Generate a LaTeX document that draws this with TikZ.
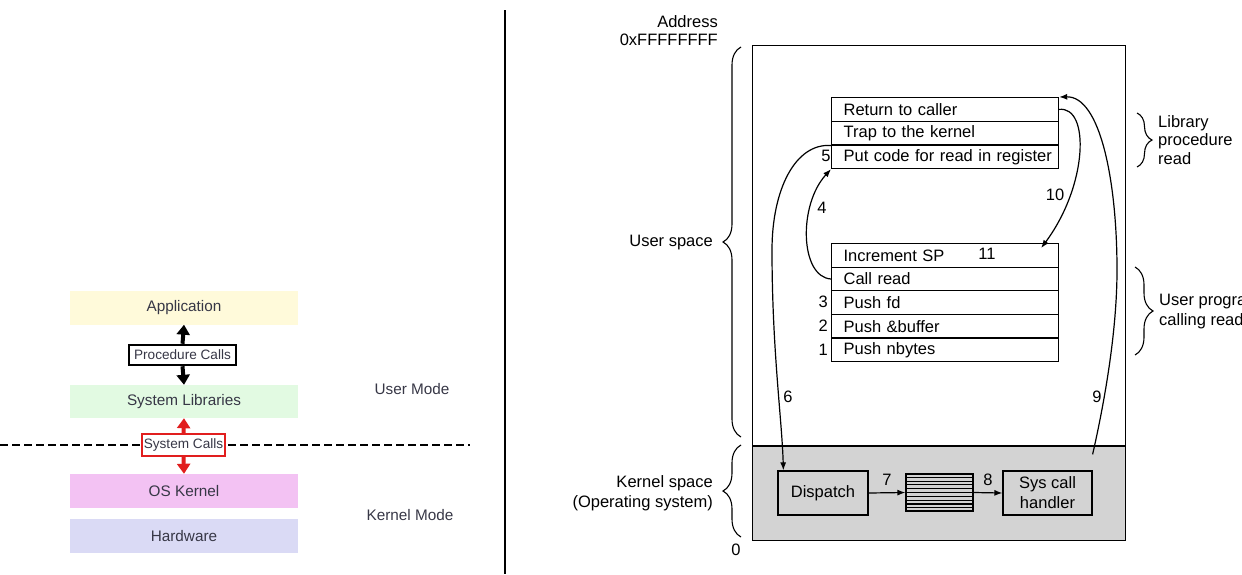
\documentclass[tikz,border=0pt]{standalone}
\usepackage{fontspec}
\setmainfont{Liberation Sans}
\usetikzlibrary{arrows.meta,decorations.pathreplacing,calc}
\definecolor{appc}{RGB}{255,250,218}
\definecolor{libc}{RGB}{226,250,226}
\definecolor{kernc}{RGB}{243,194,243}
\definecolor{hwc}{RGB}{218,218,245}
\definecolor{kgray}{RGB}{211,211,211}
\definecolor{ltext}{RGB}{55,55,70}
\definecolor{sysred}{RGB}{225,30,30}
\newcommand\leftfnt{\fontsize{15.3}{17}\selectfont}
\newcommand\smallfnt{\fontsize{13.6}{15}\selectfont}
\newcommand\rightfnt{\fontsize{16.5}{19}\selectfont}
\tikzset{
  layer/.style={minimum width=228pt, minimum height=34pt, inner sep=0pt, font=\leftfnt, text=ltext},
  callbox/.style={minimum width=#1, minimum height=20pt, inner sep=0pt, font=\smallfnt, text=ltext, fill=white},
  fat/.style={line width=4pt, -{Triangle[length=10pt,width=13pt]}},
  modelbl/.style={font=\leftfnt, text=ltext, inner sep=0pt},
  row/.style={draw, line width=1.2pt, minimum height=23.6pt, text width=203pt, inner xsep=12pt, inner ysep=0pt, anchor=north west, font=\rightfnt},
  kbox/.style={draw, line width=1.2pt, fill=kgray, minimum width=#1, minimum height=44pt, inner sep=0pt, font=\fontsize{16.5}{20}\selectfont, align=center},
  num/.style={font=\rightfnt, inner sep=0pt},
  txt/.style={font=\fontsize{16.5}{19}\selectfont, inner sep=0pt},
  arr/.style={line width=1.2pt, -{Latex[length=8pt,width=6pt]}},
  brc/.style={decorate, line width=1.1pt, decoration={brace, amplitude=#1}},
}
\begin{document}
\begin{tikzpicture}[x=1pt, y=-1pt]
\useasboundingbox (0,0) rectangle (1242,574);
\clip (0,0) rectangle (1242,574);
% ---------------- left diagram ----------------
\node[layer, fill=appc] (app) at (184,307.5) {Application};
\node[layer, fill=libc, minimum height=33pt] (lib) at (184,401.5) {System Libraries};
\node[layer, fill=kernc] (kern) at (184,491) {OS Kernel};
\node[layer, fill=hwc] (hw) at (184,536) {Hardware};
\draw[line width=1.2pt, dash pattern=on 8pt off 4pt] (0,445) -- (470,445);
\node[callbox=107pt, draw=black, line width=2.5pt] (proc) at (182.5,355) {Procedure Calls};
\node[callbox=83pt, draw=sysred, line width=2pt, minimum height=22pt] (sysc) at (183.5,445) {System Calls};
\draw[fat] (proc.north) -- (app.south);
\draw[fat] (proc.south) -- (lib.north);
\draw[fat, sysred] (sysc.north) -- (lib.south);
\draw[fat, sysred] (sysc.south) -- (kern.north);
\node[modelbl] (um) at (412,389) {User Mode};
\node[modelbl] (km) at (410,515) {Kernel Mode};
\coordinate (septop) at (505,10);
\coordinate (sepbot) at (505,574);
\draw[line width=1.3pt] (septop) -- (sepbot);
% ---------------- right diagram ----------------
\node[fill=kgray, minimum width=373pt, minimum height=94pt, inner sep=0pt, anchor=north west] (kspace) at (752,446) {};
\node[draw, line width=1.3pt, minimum width=373pt, minimum height=495pt, inner sep=0pt, anchor=north west] (mem) at (752,45) {};
\draw[line width=1.3pt] (kspace.north west) -- (kspace.north east);
% upper stack
\node[row] (ret) at (831,97) {Return to caller};
\node[row] (trap) at (831,120.7) {Trap to the kernel};
\node[row] (put) at (831,144.4) {\mbox{Put code for read in register}};
% lower stack
\node[row] (inc) at (831,243) {Increment SP};
\node[row] (call) at (831,266.6) {Call read};
\node[row] (pfd) at (831,290.2) {Push fd};
\node[row] (pbuf) at (831,313.8) {Push \&buffer};
\node[row] (pnb) at (831,337.4) {Push nbytes};
% kernel boxes
\node[kbox=90pt] (disp) at (823,493) {Dispatch};
\node[draw, line width=1.2pt, fill=kgray, minimum width=67pt, minimum height=37pt, inner sep=0pt] (queue) at (939.5,492.5) {};
\foreach \i in {1,...,9}
  \draw[line width=1.1pt] ($(queue.north west)!\i/10!(queue.south west)$) -- ($(queue.north east)!\i/10!(queue.south east)$);
\node[kbox=89pt] (hand) at (1047.5,493) {Sys call\\handler};
% arrows
\draw[arr] (disp.east) -- (queue.west);
\draw[arr] (queue.east) -- (hand.west);
\draw[arr] (trap.south west) .. controls (795,143) and (772,190) .. (772,250) .. controls (772,350) and (782,420) .. ([xshift=6pt]disp.north west);
\draw[arr] (call.west) .. controls (800,277) and (798,205) .. (put.south west);
\coordinate (incin) at ([xshift=-18pt,yshift=-5pt]inc.north east);
\draw[arr] (ret.east) .. controls (1090,106) and (1088,185) .. (incin);
\coordinate (hstart) at ([yshift=16pt]hand.north east);
\draw[arr] (hstart) .. controls (1105,400) and (1117,330) .. (1117,270) .. controls (1117,180) and (1100,96) .. (ret.north east);
% numbers
\node[num] (n5) at (826,156) {5};
\node[num] (n4) at (822,208) {4};
\node[num] (n10) at (1055,195) {10};
\node[num] (n11) at (987,254) {11};
\node[num, anchor=east] (n3) at (828,302) {3};
\node[num, anchor=east] (n2) at (828,326) {2};
\node[num, anchor=east] (n1) at (828,349.5) {1};
\node[num] (n6) at (788,397) {6};
\node[num] (n9) at (1097,397) {9};
\node[num] (n7) at (887,480) {7};
\node[num] (n8) at (988,480) {8};
% side labels
\node[txt, anchor=east, align=right, font=\fontsize{16.5}{18}\selectfont] (addr) at (718,31) {Address\\0xFFFFFFFF};
\node[txt, anchor=east] (us) at (713,243) {User space};
\node[txt, anchor=east, align=right, font=\fontsize{16.5}{20}\selectfont] (ks) at (713,493) {Kernel space\\(Operating system)};
\node[num] (zero) at (736,550) {0};
\coordinate (ub1) at (741,437);
\coordinate (ub2) at (741,47);
\draw[brc=18pt] (ub1) -- (ub2);
\coordinate (kb1) at (741,537);
\coordinate (kb2) at (741,445);
\draw[brc=18pt] (kb1) -- (kb2);
\coordinate (lb1) at (1137,113);
\coordinate (lb2) at (1137,167);
\draw[brc=15pt] (lb1) -- (lb2);
\coordinate (pb1) at (1135,267);
\coordinate (pb2) at (1135,355);
\draw[brc=18pt] (pb1) -- (pb2);
\node[txt, anchor=west, align=left, font=\fontsize{16.5}{18.5}\selectfont] (libl) at (1158,140) {Library\\procedure\\read};
\node[txt, anchor=west, align=left, font=\fontsize{16.5}{20}\selectfont] (upl) at (1159,312) {User program\\calling read};
\end{tikzpicture}
\end{document}
